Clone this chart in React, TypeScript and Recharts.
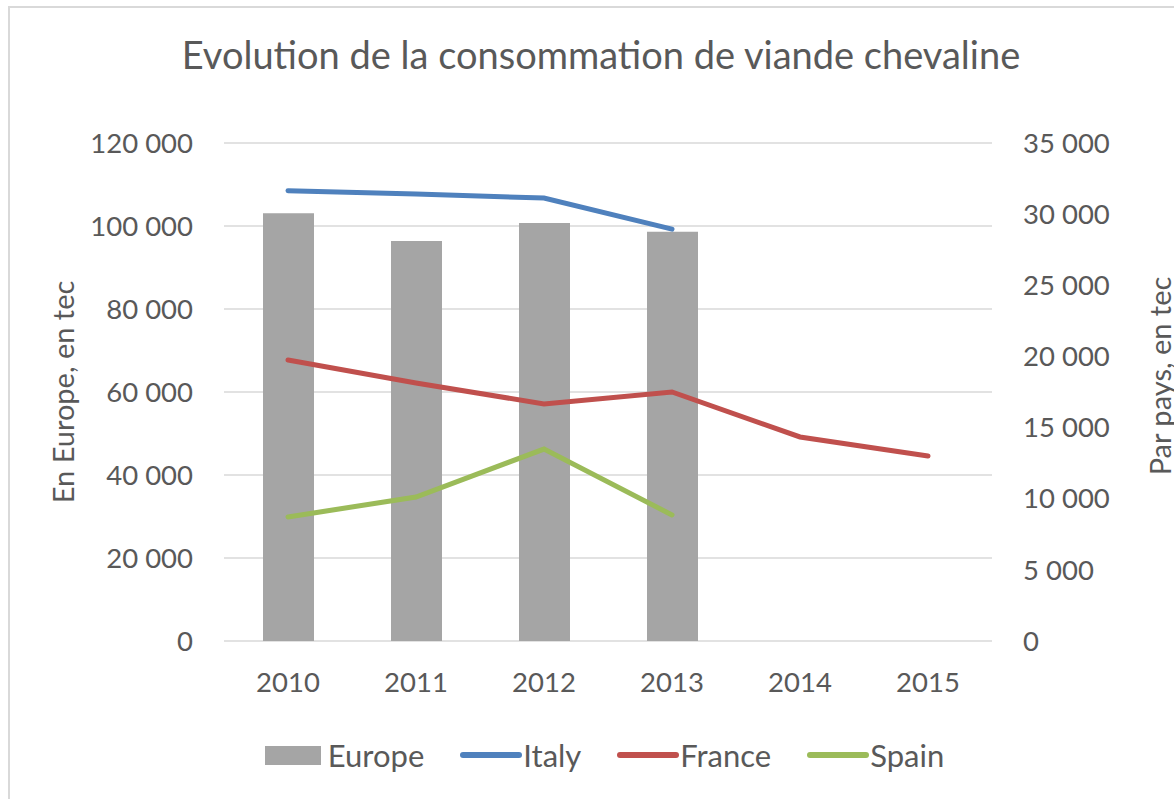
import { ComposedChart, Bar, Line, XAxis, YAxis, CartesianGrid } from 'recharts'

const years = ['2010', '2011', '2012', '2013', '2014', '2015']
const europe = [103100, 96400, 100700, 98600, null, null]
const italy = [31650, 31420, 31130, 28950, null, null]
const france = [19750, 18130, 16660, 17500, 14340, 13000]
const spain = [8720, 10120, 13490, 8860, null, null]

const leftTicks = [0, 20000, 40000, 60000, 80000, 100000, 120000]
const rightTicks = [0, 5000, 10000, 15000, 20000, 25000, 30000, 35000]

const data = years.map((year, i) => ({
    year,
    Europe: europe[i],
    Italy: italy[i],
    France: france[i],
    Spain: spain[i],
}))

const FONT = 'Lato, "Open Sans", sans-serif'
const TEXT = '#595959'
const GRID = '#D9D9D9'

const series = [
    { key: 'Europe', color: '#A5A5A5', type: 'bar' },
    { key: 'Italy', color: '#4F81BD', type: 'line' },
    { key: 'France', color: '#C0504D', type: 'line' },
    { key: 'Spain', color: '#9BBB59', type: 'line' },
]

const fmt = (v: number) => String(v).replace(/\B(?=(\d{3})+(?!\d))/g, ' ')

const tickStyle = { fontSize: 27.5, fill: TEXT, fontFamily: FONT }

// rotated axis title, centred on (cx, cy)
const axisTitle = (text: string, cx: number, cy: number) => () => (
    <text
        x={cx}
        y={cy}
        transform={`rotate(-90, ${cx}, ${cy})`}
        textAnchor="middle"
        dominantBaseline="central"
        fontSize={29}
        fill={TEXT}
        fontFamily={FONT}
    >
        {text}
    </text>
)

function ChartLegend() {
    return (
        <div style={{
            position: 'absolute', top: 736, left: 0, width: 1209, display: 'flex',
            justifyContent: 'center', gap: 36, fontFamily: FONT, fontSize: 31, color: TEXT,
        }}>
            {series.map(s => (
                <div key={s.key} style={{ display: 'flex', alignItems: 'center', gap: s.type === 'bar' ? 7 : 1 }}>
                    {s.type === 'bar'
                        ? <span style={{ width: 56, height: 19, background: s.color, display: 'inline-block' }} />
                        : <span style={{ width: 62, height: 6, borderRadius: 3, background: s.color, display: 'inline-block' }} />}
                    <span>{s.key}</span>
                </div>
            ))}
        </div>
    )
}

export default function App() {
    return (
        <div style={{ position: 'absolute', left: 0, top: 0, width: 1174, height: 799, overflow: 'hidden', background: '#fff' }}>
            <div style={{ position: 'absolute', left: 8, top: 6, width: 1300, height: 900, border: `2px solid ${GRID}` }} />
            <div style={{
                position: 'absolute', top: 31, left: 0, width: 1202, textAlign: 'center',
                fontFamily: FONT, fontSize: 38, color: TEXT, whiteSpace: 'nowrap',
            }}>
                Evolution de la consommation de viande chevaline
            </div>
            <ComposedChart
                width={1174}
                height={799}
                data={data}
                margin={{ top: 143, right: 0, bottom: 0, left: 0 }}
                barSize={51}
            >
                <CartesianGrid yAxisId="left" vertical={false} stroke={GRID} strokeWidth={1.5} />
                <XAxis
                    dataKey="year"
                    height={158}
                    axisLine={false}
                    tickLine={false}
                    tickSize={0}
                    tickMargin={31}
                    tick={tickStyle}
                />
                <YAxis
                    yAxisId="left"
                    width={224}
                    domain={[0, 120000]}
                    ticks={leftTicks}
                    tickFormatter={fmt}
                    axisLine={false}
                    tickLine={false}
                    tickSize={0}
                    tickMargin={31}
                    tick={tickStyle}
                    label={{ content: axisTitle('En Europe, en tec', 62, 392) }}
                />
                <YAxis
                    yAxisId="right"
                    orientation="right"
                    width={182}
                    domain={[0, 35000]}
                    ticks={rightTicks}
                    tickFormatter={fmt}
                    axisLine={false}
                    tickLine={false}
                    tickSize={0}
                    tickMargin={31}
                    tick={{ ...tickStyle, textAnchor: 'start' }}
                    label={{ content: axisTitle('Par pays, en tec', 1159, 376) }}
                />
                <Bar yAxisId="left" dataKey="Europe" fill="#A5A5A5" isAnimationActive={false} />
                <Line yAxisId="right" dataKey="Italy" stroke="#4F81BD" strokeWidth={5} strokeLinecap="round" dot={false} activeDot={false} isAnimationActive={false} />
                <Line yAxisId="right" dataKey="France" stroke="#C0504D" strokeWidth={5} strokeLinecap="round" dot={false} activeDot={false} isAnimationActive={false} />
                <Line yAxisId="right" dataKey="Spain" stroke="#9BBB59" strokeWidth={5} strokeLinecap="round" dot={false} activeDot={false} isAnimationActive={false} />
            </ComposedChart>
            <ChartLegend />
        </div>
    )
}
